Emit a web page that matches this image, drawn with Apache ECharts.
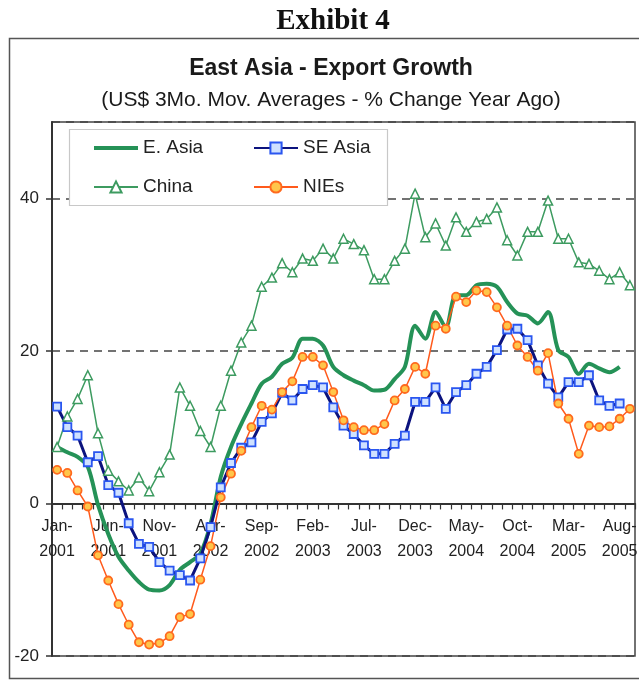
<!DOCTYPE html>
<html>
<head>
<meta charset="utf-8">
<title>East Asia - Export Growth</title>
<script src="https://cdn.jsdelivr.net/npm/echarts@6/dist/echarts.min.js"></script>
<style>
  html, body { margin: 0; padding: 0; background: #fff; }
  #main { width: 639px; height: 681px; }
</style>
</head>
<body>
<div id="main"></div>
<script>
// 月份类目 Jan-2001 .. Sep-2005
var months = [
  "Jan-2001", "Feb-2001", "Mar-2001", "Apr-2001", "May-2001", "Jun-2001", "Jul-2001", "Aug-2001", "Sep-2001", "Oct-2001", "Nov-2001", "Dec-2001",
  "Jan-2002", "Feb-2002", "Mar-2002", "Apr-2002", "May-2002", "Jun-2002", "Jul-2002", "Aug-2002", "Sep-2002", "Oct-2002", "Nov-2002", "Dec-2002",
  "Jan-2003", "Feb-2003", "Mar-2003", "Apr-2003", "May-2003", "Jun-2003", "Jul-2003", "Aug-2003", "Sep-2003", "Oct-2003", "Nov-2003", "Dec-2003",
  "Jan-2004", "Feb-2004", "Mar-2004", "Apr-2004", "May-2004", "Jun-2004", "Jul-2004", "Aug-2004", "Sep-2004", "Oct-2004", "Nov-2004", "Dec-2004",
  "Jan-2005", "Feb-2005", "Mar-2005", "Apr-2005", "May-2005", "Jun-2005", "Jul-2005", "Aug-2005", "Sep-2005"
];

// 各序列数值（%，读自原图）
var eAsia = [
  7.4, 6.7, 6.1, 4.8, -0.2, -4.0, -7.0, -8.8, -10.3, -11.3, -11.4, -10.7,
  -8.7, -7.7, -6.6, -2.7, 3.5, 7.4, 10.4, 13.1, 15.7, 16.6, 18.3, 19.1,
  21.6, 21.6, 20.7, 17.9, 16.8, 16.1, 15.5, 14.8, 14.9, 16.3, 17.9, 23.3,
  21.6, 25.1, 23.1, 27.3, 27.3, 28.6, 28.8, 28.4, 26.4, 24.9, 24.6, 23.6,
  25.1, 20.1, 19.2, 17.0, 18.3, 17.7, 17.2, 17.9, null
];
var china = [
  7.4, 11.4, 13.7, 16.8, 9.2, 4.3, 2.9, 1.7, 3.4, 1.6, 4.1, 6.4,
  15.2, 12.8, 9.5, 7.4, 12.8, 17.4, 21.1, 23.3, 28.4, 29.6, 31.5, 30.3,
  32.1, 31.8, 33.4, 32.1, 34.7, 34.0, 33.2, 29.4, 29.4, 31.8, 33.4, 40.6,
  34.9, 36.7, 33.8, 37.5, 35.6, 36.9, 37.3, 38.8, 34.5, 32.5, 35.6, 35.6,
  39.7, 34.7, 34.7, 31.6, 31.4, 30.5, 29.4, 30.3, 28.6
];
var seAsia = [
  12.7, 10.0, 8.9, 5.4, 6.2, 2.4, 1.4, -2.6, -5.3, -5.7, -7.7, -8.8,
  -9.4, -10.1, -7.2, -3.1, 2.1, 5.3, 7.3, 8.0, 10.7, 11.8, 14.5, 13.5,
  15.0, 15.5, 15.2, 12.6, 10.2, 9.1, 7.6, 6.5, 6.5, 7.8, 8.9, 13.3,
  13.3, 15.2, 12.4, 14.6, 15.5, 17.0, 17.9, 20.1, 22.8, 22.9, 21.4, 18.1,
  15.7, 13.9, 15.9, 15.9, 16.8, 13.5, 12.8, 13.1, null
];
var nies = [
  4.4, 4.0, 1.7, -0.4, -6.8, -10.1, -13.2, -15.9, -18.2, -18.5, -18.3, -17.4,
  -14.9, -14.5, -10.0, -5.6, 0.8, 3.9, 6.9, 10.0, 12.8, 12.3, 14.6, 16.0,
  19.2, 19.2, 18.1, 14.6, 10.9, 10.0, 9.6, 9.6, 10.4, 13.5, 15.0, 17.9,
  17.0, 23.3, 22.9, 27.1, 26.4, 27.9, 27.7, 25.7, 23.3, 20.7, 19.2, 17.4,
  19.7, 13.1, 11.1, 6.5, 10.2, 10.0, 10.1, 11.1, 12.4
];

var FONT = "Liberation Sans, Arial, sans-serif";
var Y_MIN = -20, Y_MAX = 50;
var GRID_TOP = 122, GRID_BOTTOM = 25, H = 681;
// x 轴放在 0 处：从底边往上移的距离
var zeroOffset = (H - GRID_TOP - GRID_BOTTOM) * (0 - Y_MIN) / (Y_MAX - Y_MIN);

var myChart = echarts.init(document.getElementById("main"), null, { renderer: "canvas" });

var options = {
  backgroundColor: "#fff",
  animation: false,
  title: [
    {
      text: "Exhibit 4",
      left: 328,
      top: 2,
      textAlign: "center",
      textStyle: { fontFamily: "Liberation Serif, Times New Roman, serif", fontWeight: "bold", fontSize: 29, color: "#111" }
    },
    {
      text: "East Asia - Export Growth",
      subtext: "(US$ 3Mo. Mov. Averages - % Change Year Ago)",
      left: 326,
      top: 52,
      textAlign: "center",
      itemGap: 10,
      textStyle: { fontFamily: FONT, fontWeight: "bold", fontSize: 23, color: "#1a1a1a" },
      subtextStyle: { fontFamily: FONT, fontSize: 21, color: "#1a1a1a" }
    }
  ],
  // 外框 + 图例框
  graphic: [
    {
      type: "rect",
      z: -1,
      shape: { x: 9.5, y: 38.5, width: 700, height: 640 },
      style: { fill: "none", stroke: "#555", lineWidth: 1.5 }
    },
    {
      type: "rect",
      z: 5,
      shape: { x: 69.5, y: 129.5, width: 318, height: 76 },
      style: { fill: "#fff", stroke: "#c8c8c8", lineWidth: 1.2 }
    }
  ],
  legend: [
    {
      orient: "vertical",
      left: 93,
      top: 138,
      padding: 0,
      itemWidth: 44,
      itemHeight: 14,
      itemGap: 19,
      z: 10,
      data: [
        { name: "E. Asia", icon: "path://M0,0 L44,0 M0,5 L44,5 L44,9 L0,9 Z M0,14 L44,14" },
        "China"
      ],
      textStyle: { fontFamily: FONT, fontSize: 19, color: "#222", lineHeight: 20 }
    },
    {
      orient: "vertical",
      left: 253,
      top: 138,
      padding: 0,
      itemWidth: 44,
      itemHeight: 14,
      itemGap: 19,
      z: 10,
      data: ["SE Asia", "NIEs"],
      textStyle: { fontFamily: FONT, fontSize: 19, color: "#222", lineHeight: 20 }
    }
  ],
  grid: {
    left: 52,
    right: 4,
    top: GRID_TOP,
    bottom: GRID_BOTTOM,
    outerBoundsMode: "none",
    containLabel: false,
    show: true,
    borderColor: "#444",
    borderWidth: 1.5
  },
  xAxis: {
    type: "category",
    data: months,
    boundaryGap: true,
    offset: -zeroOffset,
    axisLine: { onZero: false, lineStyle: { color: "#333", width: 2 } },
    axisTick: { show: true, interval: 0, length: 6, lineStyle: { color: "#333", width: 1.2 } },
    axisLabel: {
      interval: 4,
      margin: 11,
      fontFamily: FONT,
      fontSize: 16,
      lineHeight: 25,
      color: "#222",
      formatter: function (v) {
        return v.replace("-", "-\n");
      }
    },
    splitLine: { show: false }
  },
  yAxis: {
    type: "value",
    min: Y_MIN,
    max: Y_MAX,
    interval: 20,
    axisLine: { show: true, lineStyle: { color: "#333", width: 2 } },
    axisTick: { show: true, length: 6, lineStyle: { color: "#333", width: 1.5 } },
    axisLabel: { showMaxLabel: false, margin: 13, fontFamily: FONT, fontSize: 17, color: "#222" },
    splitLine: { show: true, lineStyle: { color: "#444", width: 1.5, type: [8, 6] } }
  },
  series: [
    {
      name: "E. Asia",
      type: "line",
      data: eAsia,
      symbol: "none",
      smooth: 0.3,
      lineStyle: { color: "#259257", width: 4 },
      itemStyle: { color: "#259257" }
    },
    {
      name: "China",
      type: "line",
      data: china,
      symbol: "triangle",
      symbolSize: 9,
      showAllSymbol: true,
      lineStyle: { color: "#3d9b60", width: 1.5 },
      itemStyle: { color: "#fff", borderColor: "#3d9b60", borderWidth: 1.5 }
    },
    {
      name: "SE Asia",
      type: "line",
      data: seAsia,
      symbol: "rect",
      symbolSize: 8,
      showAllSymbol: true,
      lineStyle: { color: "#0c137e", width: 3 },
      itemStyle: { color: "#cfe1ff", borderColor: "#2a56f0", borderWidth: 1.8 }
    },
    {
      name: "NIEs",
      type: "line",
      data: nies,
      symbol: "circle",
      symbolSize: 8,
      showAllSymbol: true,
      lineStyle: { color: "#ff5a1c", width: 1.5 },
      itemStyle: { color: "#ffc64a", borderColor: "#ff6a1e", borderWidth: 1.8 }
    }
  ]
};

myChart.setOption(options);
</script>
</body>
</html>
